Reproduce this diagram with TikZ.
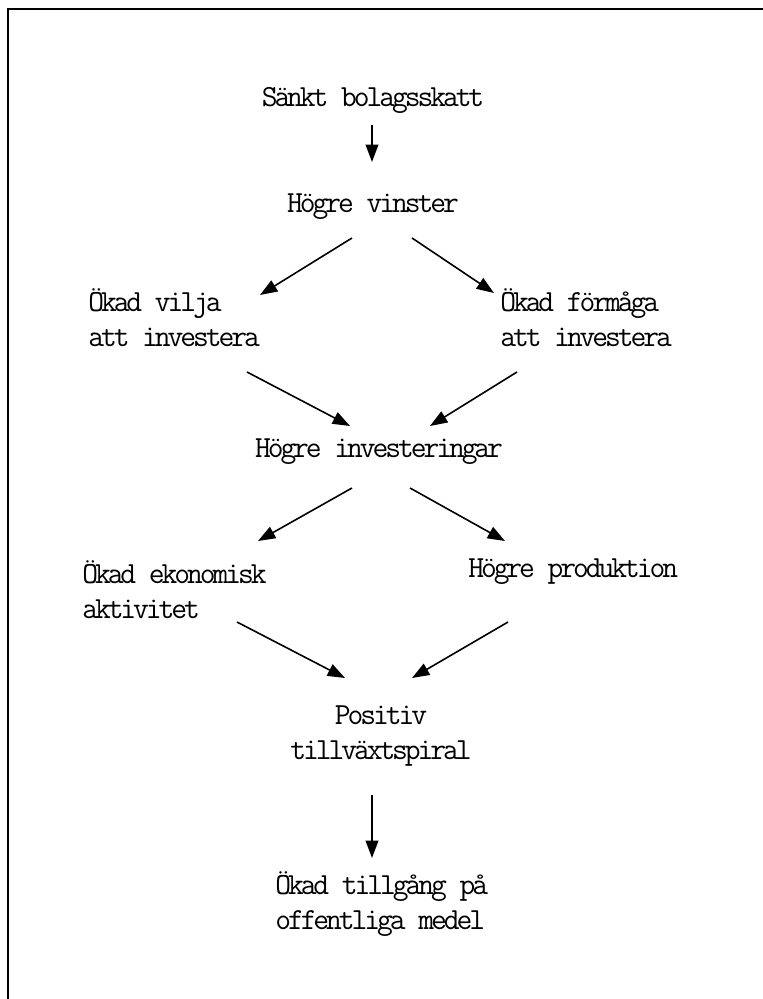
\documentclass[tikz,border=0pt]{standalone}
\usepackage{fontspec}
\newfontfamily\reffont[LetterSpace=-10]{Latin Modern Mono}
\usetikzlibrary{arrows.meta}
\tikzset{
  lbl/.style={inner sep=0pt, font=\reffont\fontsize{23pt}{26.25pt}\selectfont},
  lblL/.style={lbl, align=left, anchor=west},
  lblC/.style={lbl, align=center},
  arr/.style={line width=1.2pt, -{Triangle[length=13pt,width=9.5pt]}},
}
\begin{document}
\begin{tikzpicture}[x=0.75pt,y=-0.75pt]
\useasboundingbox (0,0) rectangle (763,999);
\clip (0,0) rectangle (763,999);
\fill[white] (0,0) rectangle (763,999);
\draw[line width=2pt] (8,1020) -- (8,9) -- (780,9);

\node[lblC] (n1) at (373,100) {Sänkt bolagsskatt};
\node[lblC] (n2) at (373,207) {Högre vinster};
\node[lblL] (n3) at (88,318) {Ökad vilja\\att investera};
\node[lblL] (n4) at (500,318) {Ökad förmåga\\att investera};
\node[lblC] (n5) at (379,452) {Högre investeringar};
\node[lblL] (n6) at (82,590) {Ökad ekonomisk\\aktivitet};
\node[lblL] (n7) at (468,572) {Högre produktion};
\node[lblC] (n8) at (381,736) {Positiv\\tillväxtspiral};
\node[lblL] (n9) at (275,904) {Ökad tillgång på\\offentliga medel};

\coordinate (a1s) at (372,125); \coordinate (a1e) at (372,162);
\coordinate (a2s) at (352,238); \coordinate (a2e) at (260,295);
\coordinate (a3s) at (412,238); \coordinate (a3e) at (494,293);
\coordinate (a4s) at (247,372); \coordinate (a4e) at (350,426);
\coordinate (a5s) at (517,372); \coordinate (a5e) at (430,426);
\coordinate (a6s) at (352,488); \coordinate (a6e) at (258,541);
\coordinate (a7s) at (410,488); \coordinate (a7e) at (505,541);
\coordinate (a8s) at (237,622); \coordinate (a8e) at (345,678);
\coordinate (a9s) at (508,622); \coordinate (a9e) at (412,678);
\coordinate (a10s) at (372,795); \coordinate (a10e) at (372,858);

\foreach \i in {1,...,10} { \draw[arr] (a\i s) -- (a\i e); }
\end{tikzpicture}
\end{document}
